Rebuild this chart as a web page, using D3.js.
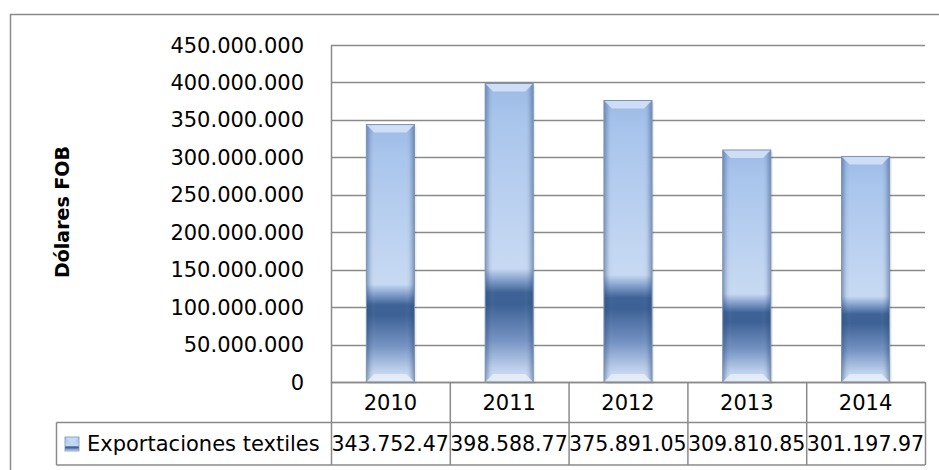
<!DOCTYPE html>
<html><head><meta charset="utf-8">
<script src="https://cdn.jsdelivr.net/npm/d3@7"></script>
<style>html,body{margin:0;padding:0;background:#fff;}svg{display:block;}</style>
</head><body>
<script>
const categories = ["2010","2011","2012","2013","2014"];
const seriesName = "Exportaciones textiles";
const values = [343752470, 398588770, 375891050, 309810850, 301197970];
const yTicks = [0,50000000,100000000,150000000,200000000,250000000,300000000,350000000,400000000,450000000];
const yTitle = "Dólares FOB";

const W = 939, H = 470;
const FONT = "'DejaVu Sans', sans-serif";
const grid = "#8a8a8a";
const loc = d3.formatLocale({decimal:",", thousands:".", grouping:[3], currency:["$",""]});
const fmt = loc.format(",d");

const svg = d3.select("body").append("svg").attr("width", W).attr("height", H);
const defs = svg.append("defs");

const g = defs.append("linearGradient").attr("id","barGrad").attr("x1",0).attr("y1",0).attr("x2",0).attr("y2",1);
[[0,"#9cbae5"],[0.12,"#a9c5ec"],[0.55,"#c4d7f2"],[0.62,"#c7d9f2"],[0.665,"#7896c4"],[0.70,"#3f6396"],[0.74,"#3d6195"],[0.86,"#7593c3"],[0.95,"#b9cdea"],[1,"#d9e5f5"]]
  .forEach(([o,c]) => g.append("stop").attr("offset",o).attr("stop-color",c));
const hg = defs.append("linearGradient").attr("id","edgeGrad").attr("x1",0).attr("y1",0).attr("x2",1).attr("y2",0);
[[0,"#2c4a78",0.45],[0.1,"#2c4a78",0.08],[0.2,"#ffffff",0.0],[0.8,"#ffffff",0.0],[0.9,"#2c4a78",0.08],[1,"#2c4a78",0.45]]
  .forEach(([o,c,a]) => hg.append("stop").attr("offset",o).attr("stop-color",c).attr("stop-opacity",a));

const x0 = 331, x1 = 925, yTop = 45, yBot = 382;
const x = d3.scaleBand().domain(categories).range([x0, x1]).padding(0);
const y = d3.scaleLinear().domain([0, 450000000]).range([yBot, yTop]);

// outer border
svg.append("rect").attr("x",10.5).attr("y",14.5).attr("width",W+10).attr("height",H+10)
  .attr("fill","none").attr("stroke",grid).attr("stroke-width",1.5);

// gridlines
svg.append("g").selectAll("line").data(yTicks).join("line")
  .attr("x1",x0).attr("x2",x1).attr("y1",d=>Math.round(y(d))+0.5).attr("y2",d=>Math.round(y(d))+0.5)
  .attr("stroke",grid).attr("stroke-width",1.5);
// y axis line
svg.append("line").attr("x1",x0+0.5).attr("x2",x0+0.5).attr("y1",yTop).attr("y2",yBot+1)
  .attr("stroke",grid).attr("stroke-width",1.5);

// y tick labels
svg.append("g").selectAll("text").data(yTicks).join("text")
  .attr("x",304).attr("y",d=>y(d)).attr("dy","0.36em").attr("text-anchor","end")
  .attr("font-family",FONT).attr("font-size",21).attr("fill","#000").text(d=>fmt(d));

// y title
svg.append("text").attr("transform","translate(69,212) rotate(-90)").attr("text-anchor","middle")
  .attr("font-family",FONT).attr("font-size",19).attr("font-weight","bold").attr("fill","#000").text(yTitle);

// bars
const bw = x.bandwidth()*0.405;
const bars = svg.append("g").selectAll("g").data(categories.map((c,i)=>({c,v:values[i]}))).join("g");
bars.each(function(d){
  const gg = d3.select(this);
  const bx = x(d.c) + (x.bandwidth()-bw)/2, by = y(d.v), bh = y(0)-y(d.v);
  gg.append("rect").attr("x",bx+2).attr("y",by+2).attr("width",bw).attr("height",bh).attr("fill","#000").attr("opacity",0.08);
  gg.append("rect").attr("x",bx).attr("y",by).attr("width",bw).attr("height",bh).attr("fill","url(#barGrad)");
  gg.append("rect").attr("x",bx).attr("y",by).attr("width",bw).attr("height",bh).attr("fill","url(#edgeGrad)");
  const b = 8;
  gg.append("path").attr("d",`M${bx},${by}L${bx+bw},${by}L${bx+bw-b},${by+b}L${bx+b},${by+b}Z`).attr("fill","#d6e4f8").attr("opacity",0.85);
  gg.append("path").attr("d",`M${bx},${by+bh}L${bx+bw},${by+bh}L${bx+bw-b},${by+bh-b}L${bx+b},${by+bh-b}Z`).attr("fill","#e8eff9").attr("opacity",0.8);
  gg.append("rect").attr("x",bx).attr("y",by).attr("width",bw).attr("height",bh).attr("fill","none")
    .attr("stroke","#7d93b4").attr("stroke-width",1);
});

// data table
const r1 = yBot, r2 = 422.5, r3 = 465;
const legLeft = 56.5;
const tbl = svg.append("g");
tbl.append("line").attr("x1",x0).attr("x2",x1).attr("y1",r1+0.5).attr("y2",r1+0.5).attr("stroke",grid).attr("stroke-width",1.5);
tbl.append("line").attr("x1",legLeft).attr("x2",x1).attr("y1",r2).attr("y2",r2).attr("stroke",grid).attr("stroke-width",1.5);
tbl.append("line").attr("x1",legLeft).attr("x2",x1).attr("y1",r3).attr("y2",r3).attr("stroke",grid).attr("stroke-width",1.5);
tbl.append("line").attr("x1",legLeft).attr("x2",legLeft).attr("y1",r2).attr("y2",r3).attr("stroke",grid).attr("stroke-width",1.5);
const colEdges = categories.map(c=>x(c)).concat([x1]);
tbl.selectAll("line.col").data(colEdges).join("line").attr("class","col")
  .attr("x1",d=>d+0.5).attr("x2",d=>d+0.5).attr("y1",r1).attr("y2",r3).attr("stroke",grid).attr("stroke-width",1.5);
tbl.selectAll("text.h").data(categories).join("text").attr("class","h")
  .attr("x",d=>x(d)+x.bandwidth()/2).attr("y",(r1+r2)/2).attr("dy","0.36em").attr("text-anchor","middle")
  .attr("font-family",FONT).attr("font-size",21).attr("fill","#000").text(d=>d);
// value cells: text truncated to what fits in the cell (as in the reference)
categories.forEach((c,i)=>{
  defs.append("clipPath").attr("id","clip"+i).append("rect")
    .attr("x",x(c)).attr("y",r2).attr("width",x.bandwidth()).attr("height",r3-r2);
  tbl.append("text").attr("clip-path",`url(#clip${i})`).attr("x",x(c)+0.5).attr("y",(r2+r3)/2).attr("dy","0.36em")
    .attr("font-family",FONT).attr("font-size",20.5).attr("fill","#000").text(fmt(values[i]).slice(0,10));
});
// legend key
const kx = 65, ky = 437, ks = 14;
tbl.append("rect").attr("x",kx).attr("y",ky).attr("width",ks).attr("height",ks).attr("fill","url(#barGrad)");
tbl.append("path").attr("d",`M${kx},${ky}L${kx+ks},${ky}L${kx+ks/2},${ky+ks*0.55}Z`).attr("fill","#c8daf3");
tbl.append("rect").attr("x",kx).attr("y",ky).attr("width",ks).attr("height",ks).attr("fill","none").attr("stroke","#7d93b4").attr("stroke-width",0.8);
tbl.append("text").attr("x",87).attr("y",(r2+r3)/2).attr("dy","0.36em")
  .attr("font-family",FONT).attr("font-size",21).attr("fill","#000").text(seriesName);
</script>
</body></html>
